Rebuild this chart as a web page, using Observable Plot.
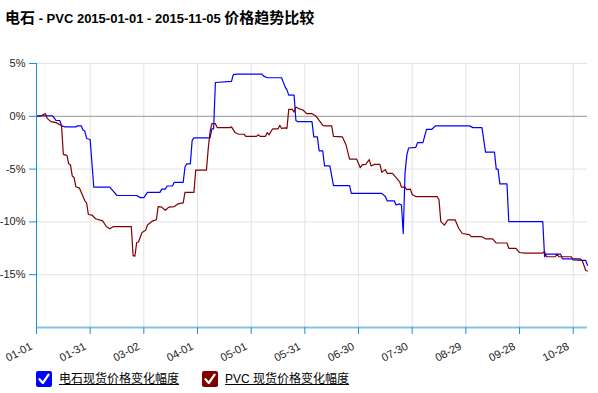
<!DOCTYPE html>
<html>
<head>
<meta charset="utf-8">
<script src="https://cdn.jsdelivr.net/npm/d3@7"></script>
<script src="https://cdn.jsdelivr.net/npm/@observablehq/plot@0.6"></script>
<style>
  html, body { margin: 0; padding: 0; background: #fff; }
  #wrap { position: relative; width: 598px; height: 393px; overflow: hidden; }
  .title { position: relative; height: 40px; font-weight: bold; color: #000; white-space: nowrap; }
  .title .in { position: absolute; left: 5px; top: 8px; line-height: 18px; }
  .title .cjk { font-family: "Noto Sans CJK SC", sans-serif; font-size: 15px; }
  .title .lat { font-family: "Liberation Sans", Arial, sans-serif; font-size: 13px; }
  .legend { position: relative; height: 23px; }
  .item { position: absolute; top: 1px; height: 16px; display: flex; align-items: center; }
  .box { width: 16px; height: 16px; border-radius: 2px; display: inline-block; }
  .box svg { display: block; }
  .lbl { margin-left: 7px; font-family: "Liberation Sans", "Noto Sans CJK SC", sans-serif; font-size: 12px; color: #000; text-decoration: underline; line-height: 16px; }
  svg.plot { display: block; }
</style>
</head>
<body>
<div id="wrap">
  <div class="title"><span class="in"><span class="cjk">电石</span><span class="lat"> - PVC 2015-01-01 - 2015-11-05 </span><span class="cjk">价格趋势比较</span></span></div>
  <div id="chart"></div>
  <div class="legend" id="legend"></div>
</div>
<script>
// ---- data ----
const seriesNames = ["电石现货价格变化幅度", "PVC 现货价格变化幅度"];
const seriesColors = ["#0000ff", "#800000"];

const dianshiDates = ["01-01","01-05","01-10","01-12","01-14","01-15","01-17","01-23","01-24","01-26","01-27","01-28","01-29","01-31",
  "02-02","02-11","02-13","02-15","02-26","02-28","03-02","03-04","03-11","03-12","03-14","03-15","03-18","03-19","03-24","03-25",
  "03-26","03-28","03-29","03-30","04-08","04-09","04-10","04-11","04-20","04-21","04-23","05-07","05-08","05-10","05-18","05-20",
  "05-21","05-22","05-25","05-26","05-27","06-04","06-05","06-07","06-08","06-10","06-11","06-14","06-16","06-25","06-26","07-13",
  "07-15","07-16","07-20","07-21","07-23","07-24","07-25","07-26","07-27","07-28","08-01","08-02","08-05","08-07","08-10","08-12",
  "08-31","09-02","09-07","09-09","09-14","09-15","09-16","09-17","09-21","09-22","10-11","10-12","10-13","10-21","10-22","11-01",
  "11-02","11-04","11-05"];
const dianshiValues = [0,0.05,0.05,-0.4,-0.4,-0.9,-1.0,-1.0,-0.9,-0.9,-1.3,-1.4,-2.1,-2.2,
  -6.7,-6.7,-7.1,-7.5,-7.5,-7.7,-7.7,-7.2,-7.2,-6.9,-6.9,-6.6,-6.6,-6.25,-6.25,-4.8,
  -4.5,-4.5,-2.3,-2.05,-2.05,-1.2,-1.2,3.2,3.3,3.95,4.0,4.0,3.8,3.65,3.65,2.76,
  2.5,2.0,2.0,-0.4,-0.5,-0.5,-1.95,-1.95,-3.27,-3.27,-4.7,-4.7,-6.57,-6.57,-7.3,-7.3,
  -7.6,-8.0,-8.0,-8.4,-8.3,-8.4,-11.1,-5.4,-3.7,-3.0,-2.95,-2.5,-2.5,-1.23,-1.23,-0.91,
  -0.91,-1.07,-1.07,-3.4,-3.4,-5.0,-5.0,-6.4,-6.4,-9.97,-9.97,-13.3,-13.05,-13.05,-13.5,-13.5,
  -13.65,-13.65,-14.1];

const pvcDates = ["01-01","01-04","01-06","01-07","01-09","01-12","01-14","01-15","01-16","01-18","01-19","01-20","01-21","01-22",
  "01-23","01-25","01-26","01-28","01-29","01-30","02-01","02-03","02-07","02-09","02-11","02-13","02-23","02-24","02-25","02-26",
  "02-27","03-01","03-03","03-04","03-07","03-09","03-10","03-12","03-14","03-16","03-19","03-21","03-24","03-25","03-30","03-31",
  "04-06","04-07","04-08","04-09","04-11","04-12","04-19","04-20","04-22","04-24","04-27","04-28","05-04","05-05","05-06","05-09",
  "05-10","05-11","05-12","05-13","05-16","05-17","05-18","05-20","05-21","05-22","05-24","05-25","05-26","05-28","05-30","06-01",
  "06-04","06-06","06-08","06-10","06-11","06-15","06-16","06-21","06-23","06-25","06-29","07-01","07-02","07-04","07-06","07-07",
  "07-09","07-12","07-13","07-15","07-16","07-19","07-21","07-23","07-24","07-26","07-27","07-29","07-30","08-01","08-13","08-14",
  "08-15","08-17","08-19","08-23","08-25","08-27","08-31","09-01","09-07","09-09","09-13","09-15","09-21","09-22","09-26","09-28",
  "10-01","10-11","10-12","10-13","10-18","10-19","10-20","10-27","10-28","11-02","11-03","11-04","11-05"];
const pvcValues = [0,0.1,0.25,-0.2,-0.5,-0.6,-0.8,-0.9,-3.6,-3.7,-4.5,-4.6,-5.66,-5.8,
  -6.67,-6.8,-7.2,-8.0,-8.2,-9.3,-9.35,-9.7,-9.9,-10.44,-10.66,-10.44,-10.44,-13.2,-13.25,-11.95,
  -11.9,-11.0,-10.8,-10.3,-9.9,-9.8,-8.55,-8.6,-8.9,-8.6,-8.55,-8.3,-8.2,-7.2,-7.2,-5.1,
  -5.1,-3.05,-1.5,-0.7,-0.7,-1.07,-1.07,-1.0,-1.54,-1.7,-1.7,-1.9,-1.9,-1.75,-1.9,-1.9,
  -1.54,-1.75,-1.45,-1.2,-1.2,-0.85,-1.15,-1.1,-1.15,0.66,0.66,0.4,0.88,0.7,0.6,0.25,
  0.25,0.06,-0.38,-0.85,-0.9,-0.9,-1.9,-1.95,-2.7,-4.06,-4.06,-4.87,-4.6,-4.55,-4.1,-4.7,
  -4.55,-4.55,-5.3,-5.05,-5.4,-5.4,-5.8,-6.2,-6.7,-6.7,-6.95,-6.9,-7.4,-7.6,-7.6,-7.9,
  -9.97,-10.3,-9.8,-9.8,-10.6,-11.1,-11.2,-11.4,-11.4,-11.6,-11.6,-12.0,-12.0,-12.5,-12.5,-12.9,
  -12.95,-12.95,-12.8,-13.3,-13.3,-13.05,-13.3,-13.3,-13.6,-13.65,-14.1,-14.6,-14.65];

const xTickLabels = ["01-01","01-31","03-02","04-01","05-01","05-31","06-30","07-30","08-29","09-28","10-28"];
const yTicks = [5, 0, -5, -10, -15];
const year = "2015";
const xStart = "01-01", xEnd = "11-05";
const yMin = -20, yMax = 5;

// ---- build ----
const toDate = s => new Date(`${year}-${s}T00:00:00Z`);
const rows = [];
dianshiDates.forEach((d, i) => rows.push({series: seriesNames[0], date: toDate(d), value: dianshiValues[i]}));
pvcDates.forEach((d, i) => rows.push({series: seriesNames[1], date: toDate(d), value: pvcValues[i]}));
const xTicks = xTickLabels.map(toDate);
const fmt = d3.utcFormat("%m-%d");

const axisBlue = "#1a8fd6";
const chart = Plot.plot({
  width: 598,
  height: 330,
  marginTop: 23,
  marginBottom: 43,
  marginLeft: 36,
  marginRight: 11,
  style: {fontFamily: "'Liberation Sans', Arial, sans-serif", fontSize: "11px", background: "#fff"},
  x: {type: "utc", domain: [toDate(xStart), toDate(xEnd)]},
  y: {domain: [yMin, yMax]},
  color: {domain: seriesNames, range: seriesColors},
  marks: [
    Plot.gridX(xTicks, {stroke: "#e2e2e2", strokeOpacity: 1}),
    Plot.gridY(yTicks.filter(v => v !== 0), {stroke: "#e2e2e2", strokeOpacity: 1}),
    Plot.ruleY([0], {stroke: "#959595"}),
    Plot.line(rows, {x: "date", y: "value", z: "series", stroke: "series", strokeWidth: 1.2}),
    Plot.ruleX([toDate(xStart)], {stroke: axisBlue}),
    Plot.ruleY([yMin], {stroke: "#85c3ea", strokeWidth: 2}),
    Plot.axisY(yTicks, {tickSize: 7, tickPadding: 4, tickFormat: d => d + "%", stroke: axisBlue, fill: "#222", fontSize: 11, label: null}),
    Plot.axisX(xTicks, {tickSize: 7, tickPadding: 0, tickRotate: -28, tickFormat: fmt, stroke: axisBlue, fill: "#222", fontSize: 11, label: null}),
  ]
});
// shift rotated x tick labels down-left, as in the reference
chart.querySelectorAll('g[aria-label="x-axis tick label"] text').forEach(t => {
  const tr = t.getAttribute("transform") || "";
  t.setAttribute("transform", "translate(-5,11) " + tr);
});
document.getElementById("chart").appendChild(chart);

// ---- legend ----
const legend = document.getElementById("legend");
const lefts = [36, 202];
seriesNames.forEach((name, i) => {
  const item = document.createElement("span");
  item.className = "item";
  item.style.left = lefts[i] + "px";
  item.innerHTML = `<span class="box" style="background:${seriesColors[i]}"><svg width="16" height="16"><path d="M3.5 8.2 L6.8 12 L12.6 3.6" fill="none" stroke="#fff" stroke-width="2.2" stroke-linecap="round" stroke-linejoin="round"/></svg></span><span class="lbl">${name}</span>`;
  legend.appendChild(item);
});
</script>
</body>
</html>
